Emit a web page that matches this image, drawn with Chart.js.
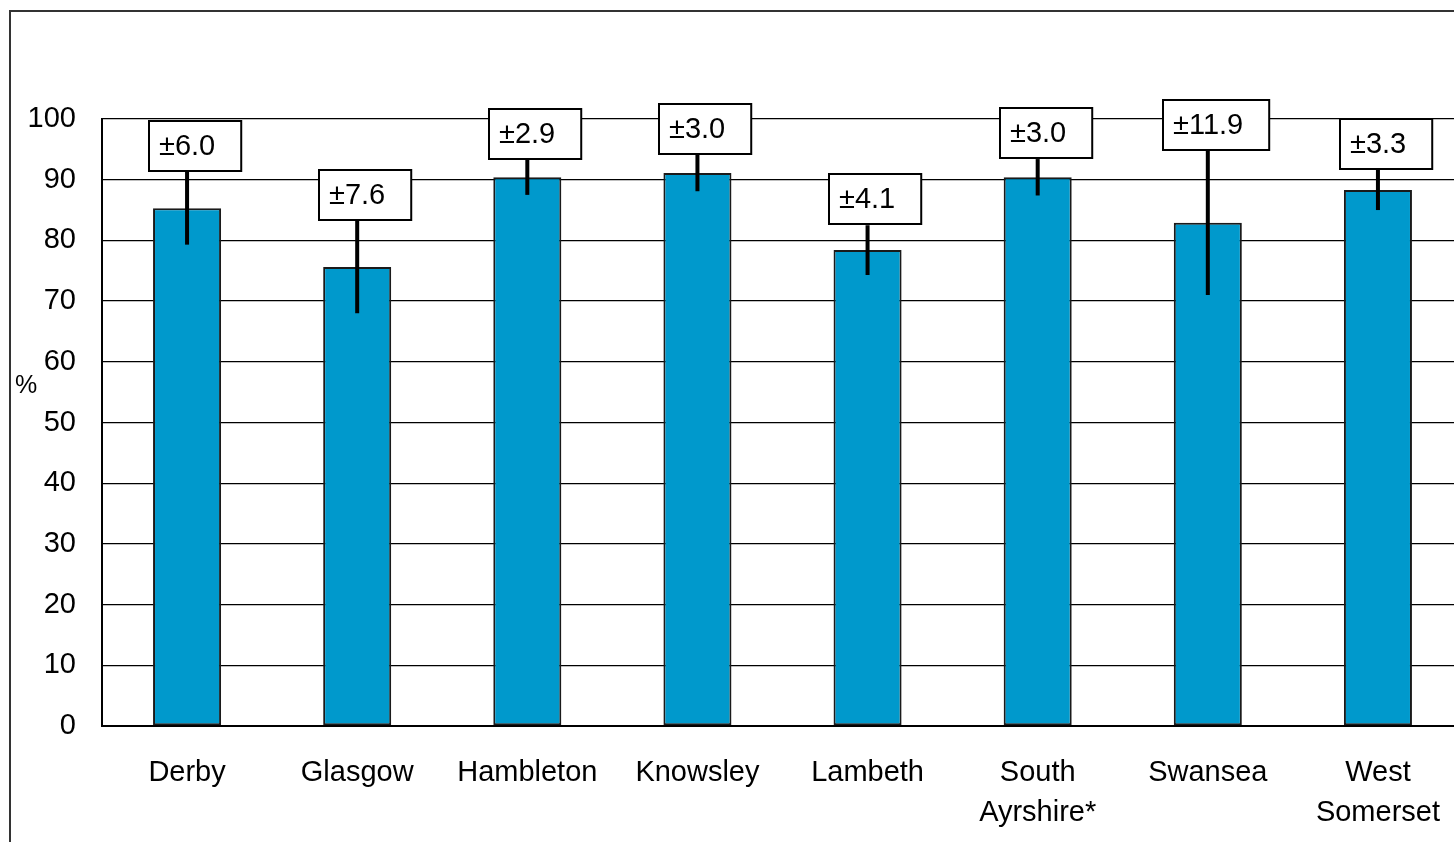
<!DOCTYPE html>
<html>
<head>
<meta charset="utf-8">
<script src="https://cdn.jsdelivr.net/npm/chart.js@4"></script>
<style>
  html, body { margin: 0; padding: 0; background: #fff; overflow: hidden; }
  #wrap { position: absolute; left: 0; top: 0; width: 1472px; height: 842px; }
</style>
</head>
<body>
<div id="wrap"><canvas id="chart" width="1472" height="842"></canvas></div>
<script>
// data
const areas = ['Derby', 'Glasgow', 'Hambleton', 'Knowsley', 'Lambeth', ['South', 'Ayrshire*'], 'Swansea', ['West', 'Somerset']];
const percents = [85.3, 75.6, 90.4, 91.1, 78.4, 90.4, 82.9, 88.3];
const margins = [6.0, 7.6, 2.9, 3.0, 4.1, 3.0, 11.9, 3.3];
const yTicks = [0, 10, 20, 30, 40, 50, 60, 70, 80, 90, 100];

const FONT = '"Liberation Sans", Arial, sans-serif';

// outer frame + '%' label
const framePlugin = {
  id: 'frame',
  beforeDraw(chart) {
    const c = chart.ctx;
    c.save();
    c.fillStyle = '#fff';
    c.fillRect(0, 0, chart.width, chart.height);
    c.strokeStyle = '#333';
    c.lineWidth = 2;
    c.strokeRect(10, 11, chart.width + 40, chart.height + 40);
    c.restore();
  },
  afterDraw(chart) {
    const c = chart.ctx;
    const a = chart.chartArea;
    c.save();
    c.fillStyle = '#000';
    c.font = '25px ' + FONT;
    c.textAlign = 'left';
    c.textBaseline = 'middle';
    c.fillText('%', 15, a.top + (a.bottom - a.top) * 0.44);
    c.restore();
  }
};

// error bars and the boxed ± labels
const errorPlugin = {
  id: 'errs',
  afterDatasetsDraw(chart) {
    const c = chart.ctx;
    const y = chart.scales.y;
    const meta = chart.getDatasetMeta(0);
    c.save();
    c.strokeStyle = '#000';
    c.lineWidth = 4;
    meta.data.forEach((bar, i) => {
      c.beginPath();
      c.moveTo(bar.x, y.getPixelForValue(percents[i] + margins[i]));
      c.lineTo(bar.x, y.getPixelForValue(percents[i] - margins[i]));
      c.stroke();
    });
    c.font = '29px ' + FONT;
    c.textBaseline = 'middle';
    c.textAlign = 'left';
    meta.data.forEach((bar, i) => {
      const txt = '±' + margins[i].toFixed(1);
      const w = c.measureText(txt).width + 36;
      const h = 50;
      const bottom = y.getPixelForValue(percents[i] + margins[i]) - 1;
      const left = Math.round(bar.x + 8 - w / 2);
      const top = Math.round(bottom - h);
      c.fillStyle = '#fff';
      c.fillRect(left, top, w, h);
      c.lineWidth = 2;
      c.strokeStyle = '#000';
      c.strokeRect(left, top, w, h);
      c.fillStyle = '#000';
      c.fillText(txt, left + 10, top + h / 2 + 1);
    });
    c.restore();
  }
};

new Chart(document.getElementById('chart'), {
  type: 'bar',
  data: {
    labels: areas,
    datasets: [{
      data: percents,
      backgroundColor: '#0099CC',
      borderColor: '#1a1a1a',
      borderWidth: 2,
      borderSkipped: false,
      categoryPercentage: 1.0,
      barPercentage: 0.4
    }]
  },
  options: {
    responsive: false,
    animation: false,
    layout: { padding: { left: 0, right: 9, top: 119, bottom: 0 } },
    plugins: {
      legend: { display: false },
      tooltip: { enabled: false }
    },
    scales: {
      x: {
        grid: { display: false, drawTicks: false },
        border: { display: true, color: '#000', width: 2 },
        ticks: {
          color: '#000',
          font: { family: FONT, size: 29, lineHeight: 1.38 },
          padding: 27,
          maxRotation: 0,
          autoSkip: false
        },
        afterFit(scale) { scale.height = 116; }
      },
      y: {
        min: 0,
        max: 100,
        afterBuildTicks(scale) { scale.ticks = yTicks.map(v => ({ value: v })); },
        grid: { color: '#000', lineWidth: 1.3, drawTicks: false },
        border: { display: true, color: '#000', width: 2 },
        ticks: {
          color: '#000',
          font: { family: FONT, size: 29 },
          padding: 26
        },
        afterFit(scale) { scale.width = 102; }
      }
    }
  },
  plugins: [framePlugin, errorPlugin]
});
</script>
</body>
</html>
